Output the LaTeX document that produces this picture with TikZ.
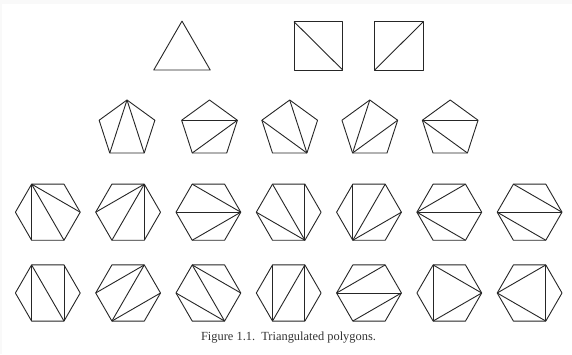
\documentclass[tikz,border=0pt]{standalone}
\usepackage{fontspec}
\setmainfont{Liberation Serif}
\usetikzlibrary{calc}
\newcommand\mkpoly[6]{% name, cx, cy, sides, radius, start angle
  \foreach \k in {1,...,#4}{%
    \coordinate (#1-\k) at ($(#2,#3)+({#6+360*(\k-1)/#4}:#5pt)$);}
  \draw[edge] (#1-1) \foreach \k in {2,...,#4}{-- (#1-\k)} -- cycle;}
\newcommand\diag[2]{\foreach \a/\b in {#2}{\draw[edge] (#1-\a) -- (#1-\b);}}
\begin{document}
\begin{tikzpicture}[x=1pt,y=1pt,
  edge/.style={draw=black!85,line width=0.9pt,line join=round}]
\fill[black!2.5] (0,0) rectangle (572,354);
\fill[white] (2.3,0) rectangle (572,349.7);
\useasboundingbox (0,0) rectangle (572,354);
% triangle
\mkpoly{t}{182}{300.3}{3}{32.6}{90}
% squares
\coordinate (sa-tl) at (294,332.3); \coordinate (sa-tr) at (342.7,332.3);
\coordinate (sa-br) at (342.7,284); \coordinate (sa-bl) at (294,284);
\draw[edge] (sa-tl) -- (sa-tr) -- (sa-br) -- (sa-bl) -- cycle;
\draw[edge] (sa-tl) -- (sa-br);
\coordinate (sb-tl) at (374.7,332.3); \coordinate (sb-tr) at (423.3,332.3);
\coordinate (sb-br) at (423.3,284); \coordinate (sb-bl) at (374.7,284);
\draw[edge] (sb-tl) -- (sb-tr) -- (sb-br) -- (sb-bl) -- cycle;
\draw[edge] (sb-bl) -- (sb-tr);
% pentagons
\mkpoly{pa}{127}{224.7}{5}{29.3}{90}   \diag{pa}{1/3,1/4}
\mkpoly{pb}{209.5}{224.7}{5}{29.3}{90} \diag{pb}{5/2,5/3}
\mkpoly{pc}{289.7}{224.7}{5}{29.3}{90} \diag{pc}{4/1,4/2}
\mkpoly{pd}{369.8}{224.7}{5}{29.3}{90} \diag{pd}{3/1,3/5}
\mkpoly{pe}{450.2}{224.7}{5}{29.3}{90} \diag{pe}{2/5,2/4}
% hexagons, row 1
\mkpoly{ha}{47.8}{141.8}{6}{32.4}{0}  \diag{ha}{3/5,3/6,3/1}
\mkpoly{hb}{128.1}{141.8}{6}{32.4}{0} \diag{hb}{2/4,2/5,2/6}
\mkpoly{hc}{208.4}{141.8}{6}{32.4}{0} \diag{hc}{1/3,1/4,1/5}
\mkpoly{hd}{288.7}{141.8}{6}{32.4}{0} \diag{hd}{6/2,6/3,6/4}
\mkpoly{he}{369.0}{141.8}{6}{32.4}{0} \diag{he}{5/3,5/2,5/1}
\mkpoly{hf}{449.3}{141.8}{6}{32.4}{0} \diag{hf}{4/2,4/1,4/6}
\mkpoly{hg}{529.6}{141.8}{6}{32.4}{0} \diag{hg}{4/1,3/1,4/6}
% hexagons, row 2
\mkpoly{ka}{47.8}{61}{6}{32.4}{0}  \diag{ka}{3/5,3/6,2/6}
\mkpoly{kb}{128.1}{61}{6}{32.4}{0} \diag{kb}{2/4,2/5,5/1}
\mkpoly{kc}{208.4}{61}{6}{32.4}{0} \diag{kc}{3/1,3/6,4/6}
\mkpoly{kd}{288.7}{61}{6}{32.4}{0} \diag{kd}{3/5,5/2,2/6}
\mkpoly{ke}{369.0}{61}{6}{32.4}{0} \diag{ke}{4/2,4/1,5/1}
\mkpoly{kf}{449.3}{61}{6}{32.4}{0} \diag{kf}{3/5,3/1,5/1}
\mkpoly{kg}{529.6}{61}{6}{32.4}{0} \diag{kg}{4/2,2/6,4/6}
% caption
\node[font=\fontsize{12.4}{15}\selectfont,text=black!80] (cap) at (288.5,16.5) {Figure 1.1.\ \ Triangulated polygons.};
\end{tikzpicture}
\end{document}
